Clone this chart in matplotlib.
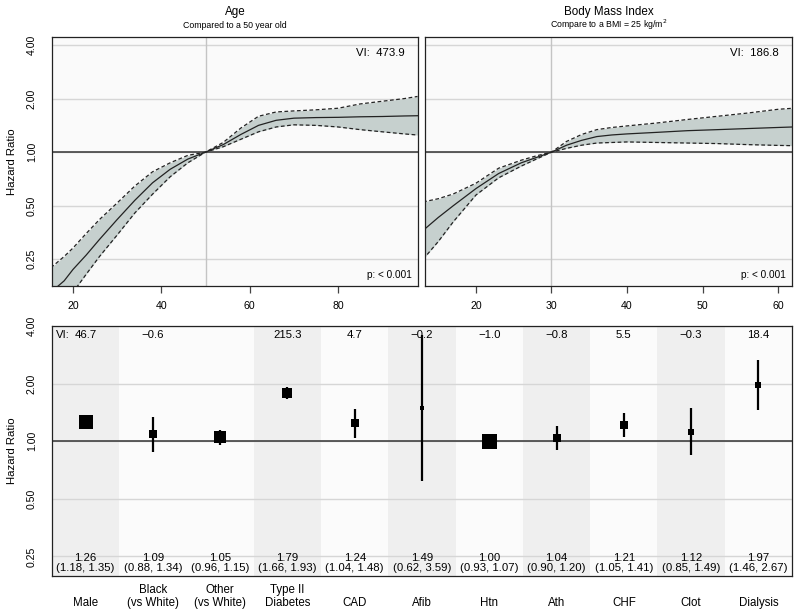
import matplotlib.pyplot as plt
from matplotlib.ticker import NullLocator

plt.rcParams['font.family'] = ['Liberation Sans', 'DejaVu Sans']

# --- continuous effects (hazard ratio) ---
age = [15, 18, 20, 23, 26, 30, 34, 38, 42, 46, 50, 54, 58, 62, 66, 70, 75, 80, 85, 90, 95, 98]
age_hr = [0.163, 0.189, 0.219, 0.264, 0.323, 0.418, 0.536, 0.672, 0.801, 0.914, 1.0,
          1.102, 1.257, 1.414, 1.510, 1.552, 1.564, 1.569, 1.580, 1.586, 1.597, 1.602]
age_upper = [0.224, 0.259, 0.289, 0.349, 0.418, 0.518, 0.645, 0.775, 0.871, 0.959, 1.0,
             1.133, 1.366, 1.591, 1.682, 1.705, 1.729, 1.765, 1.866, 1.932, 2.0, 2.056]
age_lower = [0.109, 0.134, 0.163, 0.206, 0.259, 0.342, 0.455, 0.580, 0.727, 0.871, 1.0,
             1.072, 1.181, 1.301, 1.385, 1.424, 1.414, 1.385, 1.338, 1.301, 1.266, 1.248]

bmi = [13, 15, 17, 20, 23, 26, 28, 30, 32, 34, 36, 38, 40, 44, 48, 52, 56, 60, 62]
bmi_hr = [0.363, 0.429, 0.5, 0.624, 0.758, 0.871, 0.933, 1.0, 1.094, 1.165, 1.223,
          1.249, 1.266, 1.292, 1.320, 1.338, 1.357, 1.376, 1.385]
bmi_upper = [0.525, 0.547, 0.582, 0.669, 0.812, 0.901, 0.953, 1.0, 1.149, 1.257, 1.338,
             1.376, 1.404, 1.459, 1.526, 1.591, 1.659, 1.741, 1.765]
bmi_lower = [0.25, 0.314, 0.406, 0.574, 0.717, 0.835, 0.914, 1.0, 1.050, 1.094, 1.125,
             1.133, 1.141, 1.133, 1.125, 1.117, 1.102, 1.091, 1.087]

# --- categorical effects ---
factors = ["Male", "Black\n(vs White)", "Other\n(vs White)", "Type II\nDiabetes", "CAD",
           "Afib", "Htn", "Ath", "CHF", "Clot", "Dialysis"]
factor_hr = [1.26, 1.09, 1.05, 1.79, 1.24, 1.49, 1.00, 1.04, 1.21, 1.12, 1.97]
factor_lo = [1.18, 0.88, 0.96, 1.66, 1.04, 0.62, 0.93, 0.90, 1.05, 0.85, 1.46]
factor_hi = [1.35, 1.34, 1.15, 1.93, 1.48, 3.59, 1.07, 1.20, 1.41, 1.49, 2.67]
factor_vi = ["46.7", "\u22120.6", "", "215.3", "4.7", "\u22120.2", "\u22121.0", "\u22120.8",
             "5.5", "\u22120.3", "18.4"]
factor_weight = [14, 8.3, 12.7, 10.3, 7.3, 4.7, 15, 8.7, 8.3, 6.7, 5.3]  # box width in px
factor_group = [0, 1, 1, 2, 3, 4, 5, 6, 7, 8, 9]

yticks = [0.25, 0.5, 1, 2, 4]
grid_col = "#d6d6d6"
band_col = "#c6d0ce"

fig = plt.figure(figsize=(8, 6.15), dpi=100)
W, H = 800, 615


def axes_px(left, top, right, bottom):
    return fig.add_axes([left / W, 1 - bottom / H, (right - left) / W, (bottom - top) / H])


def style_log_y(ax, labels=True):
    ax.set_yscale('log')
    ax.set_yticks(yticks)
    ax.yaxis.set_minor_locator(NullLocator())
    if labels:
        ax.set_yticklabels([f"{t:.2f}" for t in yticks], rotation=90, va='center', fontsize=7.6)
        ax.tick_params(axis='y', length=0, pad=11)
    else:
        ax.tick_params(axis='y', length=0, labelleft=False)
    for s in ax.spines.values():
        s.set_linewidth(0.9)
        s.set_color("#222222")


def spline_panel(ax, x, hr, lo, hi, ref, xlim, xticks, title, subtitle, vi, p):
    ax.set_facecolor("#fafafa")
    for t in yticks:
        ax.axhline(t, color=grid_col, lw=1, zorder=0)
    ax.axvline(ref, color="#c4c4c4", lw=1, zorder=0)
    ax.fill_between(x, lo, hi, color=band_col, lw=0, zorder=1)
    ax.plot(x, hi, color="#222222", lw=0.9, ls=(0, (3, 2)), zorder=2)
    ax.plot(x, lo, color="#222222", lw=0.9, ls=(0, (3, 2)), zorder=2)
    ax.plot(x, hr, color="#222222", lw=0.9, zorder=3)
    ax.axhline(1, color="#333333", lw=1.1, zorder=2)
    ax.set_xlim(*xlim)
    ax.set_ylim(2 ** -2.5, 2 ** 2.15)
    ax.set_xticks(xticks)
    ax.tick_params(axis='x', length=5, width=0.9, pad=6, labelsize=7.6, color="#444444")
    ax.text(0.5, 1.10, title, transform=ax.transAxes, ha='center', va='center', fontsize=8.4)
    ax.text(0.5, 1.048, subtitle, transform=ax.transAxes, ha='center', va='center', fontsize=6.3)
    ax.text(0.963, 0.936, f"VI:  {vi}", transform=ax.transAxes, ha='right', va='center', fontsize=8.2)
    ax.text(0.984, 0.044, f"p: {p}", transform=ax.transAxes, ha='right', va='center', fontsize=7.2)


ax1 = axes_px(52, 37, 418, 286)
style_log_y(ax1)
spline_panel(ax1, age, age_hr, age_lower, age_upper, 50, (15.25, 98.1), [20, 40, 60, 80],
             "Age", "Compared to a 50 year old", "473.9", "< 0.001")
ax1.set_ylabel("Hazard Ratio", fontsize=8.2)
ax1.yaxis.set_label_coords(-35 / 366, 0.5)

ax2 = axes_px(425, 37, 792, 286)
style_log_y(ax2, labels=False)
spline_panel(ax2, bmi, bmi_hr, bmi_lower, bmi_upper, 30, (13.25, 61.85), [20, 30, 40, 50, 60],
             "Body Mass Index", "Compare to a BMI = 25 kg/m$^2$", "186.8", "< 0.001")

# --- bottom forest-style panel ---
ax3 = axes_px(52, 326, 792, 576)
style_log_y(ax3)
ax3.set_facecolor("#fbfbfb")
n = len(factors)
pos = list(range(1, n + 1))
for i, g in zip(pos, factor_group):
    if g % 2 == 0:
        ax3.axvspan(i - 0.5, i + 0.5, color="#efefef", lw=0, zorder=0)
for t in yticks:
    ax3.axhline(t, color=grid_col, lw=1, zorder=1)
ax3.axhline(1, color="#333333", lw=1.1, zorder=2)
ax3.set_xlim(0.5, n + 0.5)
ax3.set_ylim(2 ** -2.34, 4.0)
ax3.set_xticks([])
ax3.set_ylabel("Hazard Ratio", fontsize=8.2)
ax3.yaxis.set_label_coords(-35 / 740, 0.5)

ax3.text(0.005, 0.964, "VI:", transform=ax3.transAxes, ha='left', va='center', fontsize=8.2)
for i, hr, lo, hi, vi, w, lab in zip(pos, factor_hr, factor_lo, factor_hi, factor_vi,
                                      factor_weight, factors):
    ax3.vlines(i, lo, hi, color="black", lw=1.6, zorder=4)
    ax3.plot(i, hr, marker='s', ms=w * 0.72, color="black", mec="black", mew=0, zorder=5)
    ax3.text(i, 0.964, vi, transform=ax3.get_xaxis_transform(), ha='center', va='center',
             fontsize=8.2, zorder=3)
    ax3.text(i, 0.012, f"{hr:.2f}\n({lo:.2f}, {hi:.2f})", transform=ax3.get_xaxis_transform(),
             ha='center', va='bottom', fontsize=8.2, linespacing=1.0, zorder=3)
    ax3.text(i, -0.12, lab, transform=ax3.get_xaxis_transform(), ha='center', va='baseline',
             fontsize=8.3, linespacing=1.1)

fig.savefig("out.png", dpi=100)
